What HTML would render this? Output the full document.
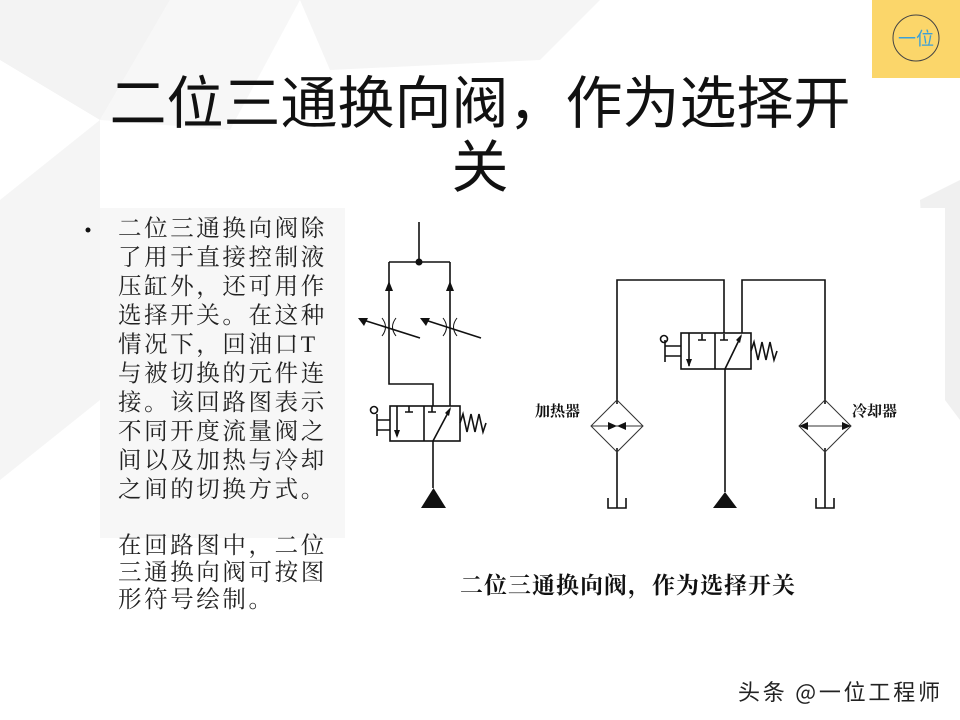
<!DOCTYPE html>
<html><head><meta charset="utf-8"><style>
body{margin:0;width:960px;height:720px;overflow:hidden;background:#fff;position:relative;font-family:"Liberation Sans","Noto Sans CJK SC",sans-serif}
.t{position:absolute;left:0;width:960px;text-align:center;font-size:57px;color:#111;line-height:62px;font-family:"Noto Sans CJK SC",sans-serif}
.b{position:absolute;left:118px;width:260px;font-size:23.5px;color:#222;font-family:"Liberation Serif","Noto Serif CJK SC",serif;white-space:nowrap;letter-spacing:2.6px}
</style></head><body>
<svg style="position:absolute;left:0;top:0" width="960" height="720">
<polygon points="0,0 170,0 100,120 0,60" fill="#f3f3f3"/>
<polygon points="170,0 300,0 230,130 100,120" fill="#f7f7f7"/>
<polygon points="300,0 600,0 540,60 330,70" fill="#f5f5f5"/>
<polygon points="0,200 100,120 100,400 0,480" fill="#f5f5f5"/>
<polygon points="920,200 960,180 960,420 930,380" fill="#f0f0f0"/>
<rect x="100" y="208" width="245" height="330" fill="#f7f7f7"/>
<rect x="345" y="208" width="600" height="400" fill="#fff"/>
<rect x="872" y="0" width="88" height="78" fill="#fbd66a"/>
<circle cx="916" cy="38" r="23" fill="none" stroke="#444" stroke-width="1"/>
<text x="916" y="45" text-anchor="middle" font-size="18" fill="#3aa0d8" font-family="Noto Sans CJK SC">一位</text>
<g stroke="#111" stroke-width="1.6" fill="none">
<path d="M419 222V262M389 262H450M389 262V384H433V406M450 262V406"/>
<path d="M360 319L420 338M422 319L481 338"/>
<path d="M382 318q7 9 0 18M396 318q-7 9 0 18M443 318q7 9 0 18M457 318q-7 9 0 18" stroke-width="1"/>
<rect x="390" y="406" width="70" height="35"/><path d="M424 406V441M397 406V436M405 412h8M409 412v-6M428 412h8M432 412v-6M433 441L450 409M433 441V488"/>
<path d="M460 423l3-9 4 18 4-18 4 18 4-18 4 18 3-9"/>
<path d="M390 420H377M390 430H377M377 414V436"/>
<circle cx="374" cy="410" r="3.5"/>
<path d="M617 404V280H724V333M742 333V280H825V404M617 448V508M825 448V508M725 369V492"/>
<rect x="681" y="333" width="70" height="36"/><path d="M715 333V369M689 333V366M698 340h8M702 340v-6M720 340h8M724 340v-6M725 369L741 336"/>
<path d="M751 351l3-9 4 18 4-18 4 18 4-18 4 18 3-9"/>
<path d="M681 346H665M681 356H665M665 340V362"/><circle cx="664" cy="339" r="3.5"/>
<path d="M608 498v10h18v-10M816 498v10h18v-10"/>
</g>
<g stroke="#333" stroke-width="1" fill="none">
<polygon points="617,400 643,426 617,452 591,426"/><polygon points="825,400 851,426 825,452 799,426"/>
<path d="M591 426H643M799 426H851"/>
</g>
<g fill="#111">
<circle cx="419" cy="262" r="3.5"/>
<polygon points="389,281 385,291 393,291"/><polygon points="450,281 446,291 454,291"/>
<polygon points="358,318 368,318 364,326"/><polygon points="420,318 430,318 426,326"/>
<polygon points="397,438 394,430 400,430"/><polygon points="451,407 445,413 449,416"/>
<polygon points="689,367 686,359 692,359"/><polygon points="742,334 736,340 740,343"/>
<polygon points="421,508 446,508 433.5,488"/><polygon points="713,508 737,508 725,492"/>
<polygon points="617,426 608,422 608,430"/><polygon points="617,426 626,422 626,430"/>
<polygon points="799,426 808,422 808,430"/><polygon points="851,426 842,422 842,430"/>
</g>
<text x="535" y="416" font-size="15" font-weight="bold" fill="#111" font-family="Noto Serif CJK SC">加热器</text>
<text x="852" y="416" font-size="15" font-weight="bold" fill="#111" font-family="Noto Serif CJK SC">冷却器</text>
<text x="460" y="593" font-size="23" fill="#111" font-family="Noto Serif CJK SC" font-weight="bold" textLength="335">二位三通换向阀，作为选择开关</text>
<circle cx="88" cy="230" r="2.5" fill="#111"/>
<text x="738" y="700" font-size="22" fill="#222" font-family="Noto Sans CJK SC" textLength="202">头条 @一位工程师</text>
</svg>
<div class="t" style="top:68px">二位三通换向阀，作为选择开</div>
<div class="t" style="top:132px">关</div>
<div class="b" style="top:215px;line-height:29px">二位三通换向阀除<br>了用于直接控制液<br>压缸外，还可用作<br>选择开关。在这种<br>情况下，回油口T<br>与被切换的元件连<br>接。该回路图表示<br>不同开度流量阀之<br>间以及加热与冷却<br>之间的切换方式。</div>
<div class="b" style="top:533px;line-height:27px">在回路图中，二位<br>三通换向阀可按图<br>形符号绘制。</div>
</body></html>
